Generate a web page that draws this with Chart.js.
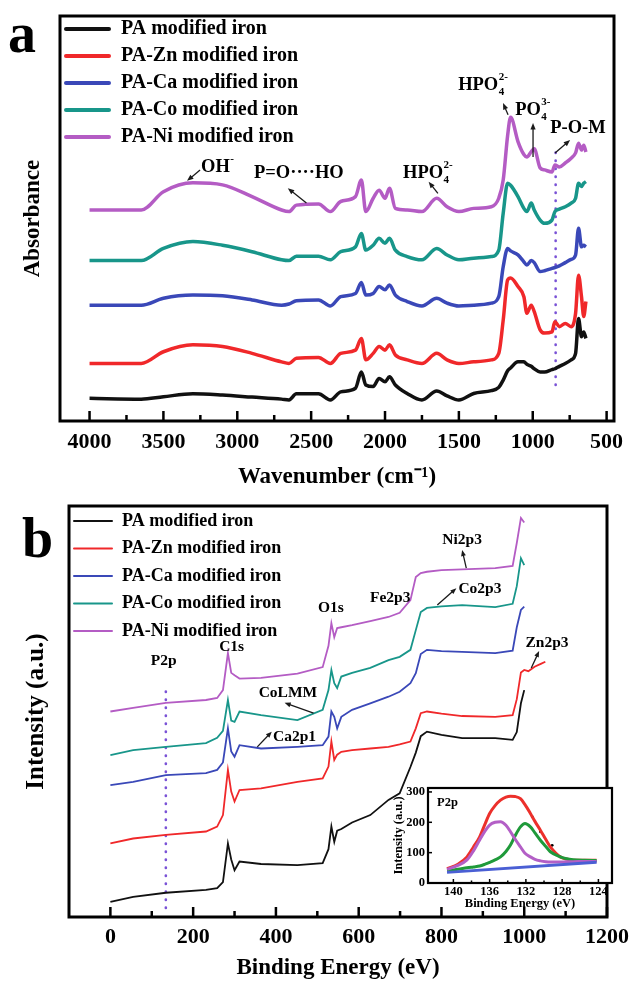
<!DOCTYPE html>
<html>
<head>
<meta charset="utf-8">
<title>FTIR and XPS spectra of PA modified iron</title>
<script src="https://cdn.jsdelivr.net/npm/chart.js@4.4.1/dist/chart.umd.min.js"></script>
<style>
  html, body { margin:0; padding:0; background:#ffffff; }
  body { width:638px; height:981px; position:relative; overflow:hidden; }
  canvas { position:absolute; display:block; }
  .panel-letter { position:absolute; font-family:"Liberation Serif","Times New Roman",serif; font-weight:bold; font-size:56px; line-height:56px; color:#000; }
</style>
</head>
<body>
<div class="panel-letter" style="left:8px; top:5px;">a</div>
<div class="panel-letter" style="left:22px; top:510px;">b</div>
<canvas id="chartA" width="638" height="490" style="left:0;top:0;"></canvas>
<canvas id="chartB" width="638" height="491" style="left:0;top:490px;"></canvas>
<canvas id="chartInset" width="245" height="152" style="left:380px;top:760px;"></canvas>
<script>
// ======================= DATA =======================
const seriesNames = ['PA modified iron', 'PA-Zn modified iron', 'PA-Ca modified iron', 'PA-Co modified iron', 'PA-Ni modified iron'];

// ---- Panel a : FTIR (absorbance, arbitrary stacked units) ----
const wavenumbers = [4000,3650,3500,3300,3100,2900,2700,2650,2600,2450,2370,2300,2200,2160,2130,2080,2040,2000,1970,1930,1850,1750,1650,1580,1500,1400,1280,1230,1200,1170,1150,1100,1060,1040,1010,990,950,920,870,850,820,780,740,710,690,670,655,640];
const absPA = [5.6,5.4,6.0,6.7,6.4,5.9,5.4,5.2,6.7,6.7,5.2,7.2,8.1,12.1,8.9,8.5,10.5,9.7,10.9,8.9,6.8,5.2,7.4,6.2,5.2,6.8,7.5,8.3,10.1,12.4,13.1,14.6,14.6,14.0,13.5,12.9,12.1,12.1,12.7,12.9,13.5,14.2,15.1,16.7,25.3,20.8,22.0,20.4];
const absZn = [14.2,14.2,17.1,18.8,18.4,16.7,14.6,14.2,15.5,15.7,14.2,16.7,17.5,20.4,15.1,16.7,18.4,17.5,18.8,16.3,15.1,14.2,16.7,15.1,14.2,14.6,15.1,16.7,24.9,34.8,35.3,33.2,30.7,26.6,28.6,27.0,22.5,21.7,22.0,24.5,23.3,24.1,23.3,26.6,36.0,30.7,25.8,29.5];
const absCa = [28.6,28.6,30.3,31.1,30.9,29.9,28.6,28.9,29.7,29.9,28.4,30.7,31.5,34.2,31.1,31.5,33.2,32.4,33.6,31.1,29.5,28.4,30.3,29.1,28.4,28.6,29.1,30.7,38.1,42.6,42.0,41.0,39.3,38.5,39.6,39.1,36.9,37.1,37.7,37.9,38.3,39.1,39.9,41.0,47.6,43.0,43.4,43.0];
const absCo = [39.6,39.6,42.6,44.3,43.4,41.8,39.8,39.6,40.7,40.7,39.8,41.8,43.0,46.3,42.2,43.4,45.1,43.9,45.1,42.2,40.6,39.8,42.6,41.0,39.8,40.2,40.6,42.2,51.3,58.7,58.2,55.4,52.5,51.7,53.8,52.1,49.6,48.8,49.6,51.7,52.3,52.9,53.8,55.0,58.7,57.9,58.7,59.1];
const absNi = [52.1,52.1,56.6,58.8,58.3,55.4,52.1,51.7,53.3,53.6,51.7,54.2,55.4,59.5,51.7,55.0,57.0,55.0,57.5,52.5,52.1,51.7,55.0,52.9,51.7,52.5,52.9,55.0,59.5,70.5,75.0,69.0,65.8,65.2,66.5,67.2,62.5,62.0,61.5,63.2,62.7,63.7,64.9,66.2,68.6,66.9,68.1,66.4];
const wavenumberTicks = [4000,3500,3000,2500,2000,1500,1000,500];
const wavenumberMinorTicks = [3750,3250,2750,2250,1750,1250,750];
const pomMarker = { x: 845, from: 8.9, to: 66.9 };

// ---- Panel b : XPS survey (intensity, arbitrary stacked units) ----
const bindingEnergies = [0,55,134,231,258,272,284,292,300,312,364,452,513,527,534,541,548,558,584,628,672,699,725,738,750,765,800,850,930,972,982,992,1000,1010,1025,1040,1051];
const xpsPA = [3.7,4.9,5.9,6.6,7.0,8.5,17.9,14.0,11.4,13.5,12.9,12.6,13.1,16.5,22.0,18.3,21.0,21.4,23.0,24.8,28.5,30.1,36.5,40.0,44.0,45.1,44.3,43.5,43.5,43.1,45.0,52.0,55.2,null,null,null,null];
const xpsZn = [17.9,19.1,20.0,20.8,22.0,24.8,35.8,30.5,28.1,30.9,31.3,32.9,33.7,36.6,42.7,38.2,39.5,40.2,40.6,41.0,41.4,42.0,42.7,45.9,49.6,50.0,49.5,48.9,48.7,49.1,53.0,59.5,60.1,59.8,60.9,61.6,62.1];
const xpsCa = [32.1,32.9,34.5,35.0,35.8,37.6,45.9,40.3,39.0,41.8,41.0,41.4,41.8,43.9,50.0,48.7,45.9,48.7,50.4,52.0,53.6,54.8,56.9,59.3,64.0,65.0,64.7,64.5,64.2,64.8,70.5,74.7,75.5,null,null,null,null];
const xpsCo = [39.4,40.6,41.4,42.3,43.6,45.3,52.8,47.8,47.5,50.0,49.1,47.9,50.4,55.2,60.1,56.9,55.7,58.5,59.4,60.6,62.5,63.3,65.0,69.8,74.2,75.2,75.6,75.9,75.4,76.2,80.5,87.3,85.6,null,null,null,null];
const xpsNi = [50.0,50.9,52.1,52.8,53.3,55.2,64.2,59.4,58.8,58.0,58.2,59.2,60.8,66.0,71.5,68.1,70.3,70.5,71.0,72.0,73.0,74.0,77.1,82.7,83.7,84.0,84.4,84.6,84.9,85.4,91.0,97.1,96.0,null,null,null,null];
const bindingTicks = [0,200,400,600,800,1000,1200];
const bindingMinorTicks = [100,300,500,700,900,1100];
const p2pMarker = { x: 134, from: 2.2, to: 56.4 };

// ---- Inset : P2p high-resolution fit ----
const insetBE = [140.7,139.5,138.5,137.8,137.1,136.5,136.0,135.4,134.8,134.2,133.7,133.2,132.6,132.1,131.5,131.0,130.4,129.8,129.3,128.2,127.5,126.8,125.5,124.2];
const p2pEnvelope = [47,62,86,118,152,195,229,255,273,283,286,285,278,258,229,203,174,143,119,86,79,75,75,75];
const p2pComponent1 = [45,58,76,105,142,172,191,200,202,190,169,145,119,98,86,78,73,70,69,69,70,70,71,71];
const p2pComponent2 = [40,45,50,53,56,62,68,76,86,104,125,155,185,196,185,165,141,120,103,86,80,77,75,74];
const p2pBaselineBE = [140.7,124.2];
const p2pBaseline = [35,68];
const p2pRawBE = [131.3,130.4,129.1,128.2];
const p2pRaw = [218,169,124,86];
const insetXTicks = [140,136,132,128,124];
const insetXMinor = [138,134,130,126];
const insetYTicks = [0,100,200,300];

// ======================= STYLE / HELPERS =======================
const FONT = '"Liberation Serif", "Times New Roman", serif';
Chart.defaults.font.family = FONT;
Chart.defaults.color = '#000';
const COLORS = ['#111111', '#f0282a', '#3a48b8', '#18968a', '#b45cc4'];
const DOT_COLOR = '#7a52d6';

const pts = (xs, ys) => xs.map((x, i) => ({ x: x, y: ys[i] }));

function drawRich(ctx, x, y, parts, size, align) {
  const big = 'bold ' + size + 'px ' + FONT;
  const small = 'bold ' + Math.round(size * 0.6) + 'px ' + FONT;
  let w = 0;
  parts.forEach(p => {
    if (typeof p === 'string') { ctx.font = big; w += ctx.measureText(p).width; }
    else {
      ctx.font = small;
      w += Math.max(p.sub ? ctx.measureText(p.sub).width : 0, p.sup ? ctx.measureText(p.sup).width : 0) + 1;
    }
  });
  let cx = align === 'center' ? x - w / 2 : x;
  ctx.textBaseline = 'middle'; ctx.textAlign = 'left'; ctx.fillStyle = '#000';
  parts.forEach(p => {
    if (typeof p === 'string') { ctx.font = big; ctx.fillText(p, cx, y); cx += ctx.measureText(p).width; }
    else {
      ctx.font = small;
      let ww = 0;
      if (p.sub) { ctx.fillText(p.sub, cx + 0.5, y + size * 0.38); ww = Math.max(ww, ctx.measureText(p.sub).width); }
      if (p.sup) { ctx.fillText(p.sup, cx + 0.5, y - size * 0.42); ww = Math.max(ww, ctx.measureText(p.sup).width); }
      cx += ww + 1;
    }
  });
}

function drawArrow(ctx, x1, y1, x2, y2, head) {
  const ang = Math.atan2(y2 - y1, x2 - x1);
  ctx.beginPath(); ctx.moveTo(x1, y1); ctx.lineTo(x2 - Math.cos(ang) * head * 0.6, y2 - Math.sin(ang) * head * 0.6); ctx.stroke();
  ctx.beginPath();
  ctx.moveTo(x2, y2);
  ctx.lineTo(x2 - head * Math.cos(ang - 0.38), y2 - head * Math.sin(ang - 0.38));
  ctx.lineTo(x2 - head * Math.cos(ang + 0.38), y2 - head * Math.sin(ang + 0.38));
  ctx.closePath(); ctx.fill();
}

const framePlugin = {
  id: 'frame',
  beforeDatasetsDraw(chart, args, o) {
    if (o.fill) { const a = chart.chartArea; chart.ctx.save(); chart.ctx.fillStyle = o.fill; chart.ctx.fillRect(a.left, a.top, a.width, a.height); chart.ctx.restore(); }
  },
  afterDatasetsDraw(chart, args, o) {
    const ctx = chart.ctx, a = chart.chartArea, xs = chart.scales.x, ys = chart.scales.y;
    ctx.save(); ctx.strokeStyle = '#000'; ctx.lineWidth = o.tickWidth || 2.5;
    const vx = (vals, len) => (vals || []).forEach(v => { const p = xs.getPixelForValue(v); ctx.beginPath(); ctx.moveTo(p, a.bottom); ctx.lineTo(p, a.bottom - len); ctx.stroke(); });
    const vy = (vals, len) => (vals || []).forEach(v => { const p = ys.getPixelForValue(v); ctx.beginPath(); ctx.moveTo(a.left, p); ctx.lineTo(a.left + len, p); ctx.stroke(); });
    vx(o.xMajor, o.majorLen); vx(o.xMinor, o.minorLen); vy(o.yMajor, o.majorLen);
    ctx.lineWidth = o.width || 3;
    ctx.strokeRect(a.left, a.top, a.width, a.height);
    ctx.restore();
  }
};

const notesPlugin = {
  id: 'notes',
  afterDraw(chart, args, o) {
    const ctx = chart.ctx, xs = chart.scales.x, ys = chart.scales.y;
    ctx.save();
    ctx.strokeStyle = '#1a1a1a'; ctx.fillStyle = '#1a1a1a'; ctx.lineWidth = 1.3;
    (o.arrows || []).forEach(ar => drawArrow(ctx, xs.getPixelForValue(ar.from[0]), ys.getPixelForValue(ar.from[1]), xs.getPixelForValue(ar.to[0]), ys.getPixelForValue(ar.to[1]), o.head || 7));
    (o.items || []).forEach(it => drawRich(ctx, xs.getPixelForValue(it.x), ys.getPixelForValue(it.y), it.parts, o.size, o.align));
    ctx.restore();
  }
};

// a legend placed in the chart area starts at the canvas top; move it to where the reference shows it
const legendShiftPlugin = {
  id: 'legendShift',
  afterLayout(chart, args, o) { const lg = chart.legend; if (lg) { lg.left += o.dx || 0; lg.top += o.dy || 0; } }
};

function legendLabels(size, boxW, boxH, pad) {
  return {
    boxWidth: boxW, boxHeight: boxH, padding: pad, color: '#000',
    font: { family: FONT, size: size, weight: 'bold' },
    generateLabels(chart) {
      const out = [];
      chart.data.datasets.forEach((d, i) => {
        if (d.hideLegend) return;
        out.push({ text: d.label, fillStyle: d.borderColor, strokeStyle: d.borderColor, lineWidth: 0, borderRadius: boxH / 2, hidden: false, datasetIndex: i, fontColor: '#000' });
      });
      return out;
    }
  };
}

function fixedTicks(values) {
  return function (scale) { scale.ticks = values.map(v => ({ value: v })); };
}

// ======================= PANEL A =======================
const absSeries = [absPA, absZn, absCa, absCo, absNi];
const dsA = absSeries.map((s, i) => ({
  label: seriesNames[i], data: pts(wavenumbers, s), borderColor: COLORS[i], backgroundColor: COLORS[i],
  borderWidth: 3.5, pointRadius: 0, cubicInterpolationMode: 'monotone', fill: false
}));
dsA.push({ label: '', hideLegend: true, data: [{ x: pomMarker.x, y: pomMarker.from }, { x: pomMarker.x, y: pomMarker.to }],
  borderColor: DOT_COLOR, borderWidth: 2.6, borderDash: [0.5, 7.5], borderCapStyle: 'round', pointRadius: 0 });

new Chart(document.getElementById('chartA'), {
  type: 'line',
  data: { datasets: dsA },
  plugins: [framePlugin, notesPlugin, legendShiftPlugin],
  options: {
    responsive: false, animation: false, events: [], devicePixelRatio: 1,
    layout: { padding: { left: 0, right: 24, top: 16, bottom: 0 } },
    scales: {
      x: {
        type: 'linear', reverse: true, min: 450, max: 4200,
        afterBuildTicks: fixedTicks(wavenumberTicks),
        afterFit(s) { s.height = 69; },
        grid: { display: false, drawTicks: false }, border: { display: false },
        ticks: { padding: 10, font: { size: 22, weight: 'bold', lineHeight: 1 }, color: '#000', maxRotation: 0, autoSkip: false, callback: v => String(v) },
        title: { display: true, text: 'Wavenumber (cm⁻¹)', font: { size: 23, weight: 'bold', lineHeight: 1 }, color: '#000', padding: { top: 0, bottom: 1.5 } }
      },
      y: {
        type: 'linear', min: 0, max: 100,
        afterFit(s) { s.width = 60; },
        grid: { display: false, drawTicks: false }, border: { display: false },
        ticks: { display: false },
        title: { display: true, text: 'Absorbance', font: { size: 23, weight: 'bold', lineHeight: 1 }, color: '#000', padding: { top: 21.5, bottom: 0 } }
      }
    },
    plugins: {
      tooltip: { enabled: false },
      legend: { position: 'chartArea', align: 'start', labels: legendLabels(20, 47, 4, 7) },
      legendShift: { dx: -3, dy: 12 },
      frame: { width: 3, tickWidth: 2.5, xMajor: wavenumberTicks, xMinor: wavenumberMinorTicks, majorLen: 10, minorLen: 6 },
      notes: {
        size: 18.5, align: 'left', head: 7,
        items: [
          { x: 3245, y: 62.7, parts: ['OH', { sup: '-' }] },
          { x: 2887, y: 61.2, parts: ['P=O····HO'] },
          { x: 1878, y: 61.2, parts: ['HPO', { sub: '4', sup: '2-' }] },
          { x: 1505, y: 83.0, parts: ['HPO', { sub: '4', sup: '2-' }] },
          { x: 1119, y: 76.8, parts: ['PO', { sub: '4', sup: '3-' }] },
          { x: 882, y: 72.3, parts: ['P-O-M'] }
        ],
        arrows: [
          { from: [3252, 62.0], to: [3340, 59.3] },
          { from: [2532, 53.8], to: [2658, 57.5] },
          { from: [1642, 56.2], to: [1705, 59.1] },
          { from: [1167, 75.6], to: [1201, 78.5] },
          { from: [998, 65.2], to: [998, 73.6] },
          { from: [849, 66.2], to: [747, 69.4] }
        ]
      }
    }
  }
});

// ======================= PANEL B =======================
const xpsSeries = [xpsPA, xpsZn, xpsCa, xpsCo, xpsNi];
const dsB = xpsSeries.map((s, i) => ({
  label: seriesNames[i], data: pts(bindingEnergies, s), borderColor: COLORS[i], backgroundColor: COLORS[i],
  borderWidth: 1.8, pointRadius: 0, tension: 0, spanGaps: false, fill: false
}));
dsB.push({ label: '', hideLegend: true, data: [{ x: p2pMarker.x, y: p2pMarker.from }, { x: p2pMarker.x, y: p2pMarker.to }],
  borderColor: DOT_COLOR, borderWidth: 2.6, borderDash: [0.5, 7.5], borderCapStyle: 'round', pointRadius: 0 });

new Chart(document.getElementById('chartB'), {
  type: 'line',
  data: { datasets: dsB },
  plugins: [framePlugin, notesPlugin, legendShiftPlugin],
  options: {
    responsive: false, animation: false, events: [], devicePixelRatio: 1,
    layout: { padding: { left: 0, right: 23, top: 16, bottom: 0 } },
    scales: {
      x: {
        type: 'linear', min: -100, max: 1200,
        afterBuildTicks: fixedTicks(bindingTicks),
        afterFit(s) { s.height = 64; },
        grid: { display: false, drawTicks: false }, border: { display: false },
        ticks: { padding: 9, font: { size: 22, weight: 'bold', lineHeight: 1 }, color: '#000', maxRotation: 0, autoSkip: false, callback: v => String(v) },
        title: { display: true, text: 'Binding Energy (eV)', font: { size: 23, weight: 'bold', lineHeight: 1 }, color: '#000', padding: { top: 0, bottom: 1.5 } }
      },
      y: {
        type: 'linear', min: 0, max: 100,
        afterFit(s) { s.width = 69; },
        grid: { display: false, drawTicks: false }, border: { display: false },
        ticks: { display: false },
        title: { display: true, text: 'Intensity (a.u.)', font: { size: 25, weight: 'bold', lineHeight: 1 }, color: '#000', padding: { top: 24.5, bottom: 0 } }
      }
    },
    plugins: {
      tooltip: { enabled: false },
      legend: { position: 'chartArea', align: 'start', labels: legendLabels(18, 40, 2, 9.5) },
      legendShift: { dx: -5.5, dy: 12.5 },
      frame: { width: 3, tickWidth: 2.5, xMajor: bindingTicks, xMinor: bindingMinorTicks, majorLen: 10, minorLen: 6 },
      notes: {
        size: 15.5, align: 'center', head: 6.5,
        items: [
          { x: 129, y: 62.3, parts: ['P2p'] },
          { x: 293, y: 65.7, parts: ['C1s'] },
          { x: 533, y: 75.2, parts: ['O1s'] },
          { x: 676, y: 77.6, parts: ['Fe2p3'] },
          { x: 850, y: 91.7, parts: ['Ni2p3'] },
          { x: 893, y: 79.8, parts: ['Co2p3'] },
          { x: 1055, y: 66.7, parts: ['Zn2p3'] },
          { x: 429, y: 54.5, parts: ['CoLMM'] },
          { x: 445, y: 43.8, parts: ['Ca2p1'] }
        ],
        arrows: [
          { from: [860, 84.9], to: [850, 89.3] },
          { from: [790, 75.9], to: [836, 80.0] },
          { from: [1017, 60.6], to: [1036, 64.7] },
          { from: [491, 49.6], to: [421, 52.1] },
          { from: [355, 41.4], to: [390, 45.1] }
        ]
      }
    }
  }
});

// ======================= INSET =======================
new Chart(document.getElementById('chartInset'), {
  type: 'line',
  data: {
    datasets: [
      { label: 'baseline', data: pts(p2pBaselineBE, p2pBaseline), borderColor: '#4a5fd4', borderWidth: 3, pointRadius: 0 },
      { label: 'component 1', data: pts(insetBE, p2pComponent1), borderColor: '#b35fc6', borderWidth: 3, pointRadius: 0, cubicInterpolationMode: 'monotone' },
      { label: 'component 2', data: pts(insetBE, p2pComponent2), borderColor: '#1f9a3a', borderWidth: 3, pointRadius: 0, cubicInterpolationMode: 'monotone' },
      { label: 'envelope', data: pts(insetBE, p2pEnvelope), borderColor: '#ec302b', borderWidth: 3, pointRadius: 0, cubicInterpolationMode: 'monotone' },
      { label: 'raw', data: pts(p2pRawBE, p2pRaw), showLine: false, pointRadius: 1.4, pointBackgroundColor: '#000', pointBorderWidth: 0, borderColor: '#000' }
    ]
  },
  plugins: [framePlugin, notesPlugin],
  options: {
    responsive: false, animation: false, events: [], devicePixelRatio: 1,
    layout: { padding: { left: 0, right: 13, top: 28, bottom: 0 } },
    scales: {
      x: {
        type: 'linear', reverse: true, min: 122.5, max: 142.8,
        afterBuildTicks: fixedTicks(insetXTicks),
        afterFit(s) { s.height = 29; },
        grid: { display: false, drawTicks: false }, border: { display: false },
        ticks: { padding: 2.5, font: { size: 12.5, weight: 'bold', lineHeight: 1 }, color: '#000', maxRotation: 0, autoSkip: false, callback: v => String(v) },
        title: { display: true, text: 'Binding Energy (eV)', font: { size: 12.5, weight: 'bold', lineHeight: 1 }, color: '#000', padding: { top: 0, bottom: 1.5 } }
      },
      y: {
        type: 'linear', min: 0, max: 313,
        afterBuildTicks: fixedTicks(insetYTicks),
        afterFit(s) { s.width = 48; },
        grid: { display: false, drawTicks: false }, border: { display: false },
        ticks: { padding: 3, font: { size: 12.5, weight: 'bold', lineHeight: 1 }, color: '#000', callback: v => String(v) },
        title: { display: true, text: 'Intensity (a.u.)', font: { size: 12.5, weight: 'bold', lineHeight: 1 }, color: '#000', padding: { top: 12.75, bottom: 0 } }
      }
    },
    plugins: {
      tooltip: { enabled: false },
      legend: { display: false },
      frame: { fill: '#ffffff', width: 2.2, tickWidth: 1.5, xMajor: insetXTicks, xMinor: insetXMinor, yMajor: insetYTicks, majorLen: 4, minorLen: 2.5 },
      notes: { size: 12.5, align: 'left', items: [{ x: 141.8, y: 263, parts: ['P2p'] }], arrows: [] }
    }
  }
});
</script>
</body>
</html>
